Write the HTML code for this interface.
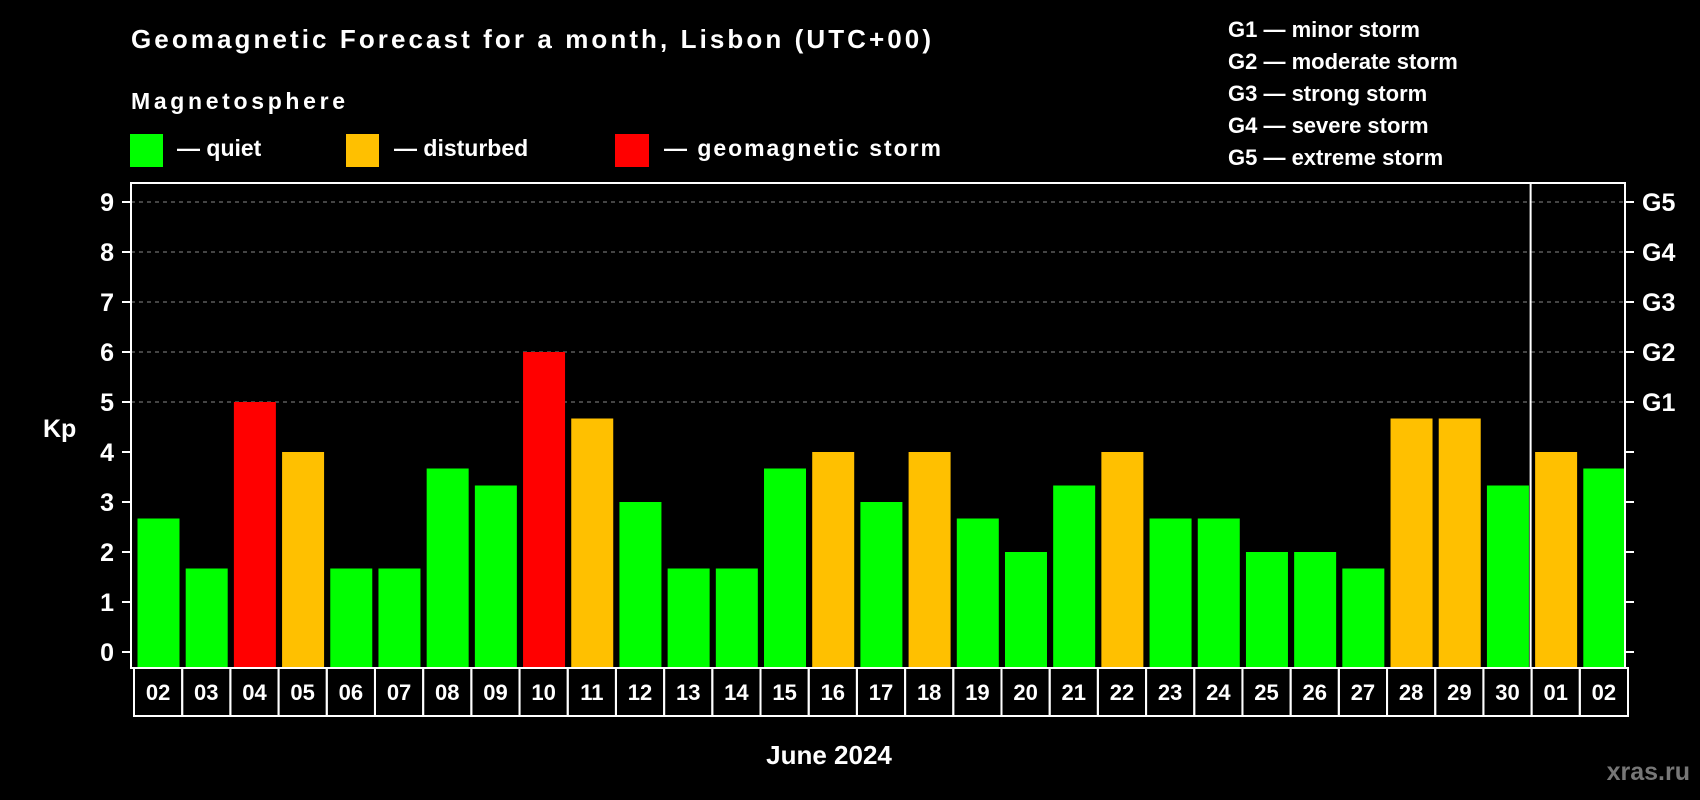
<!DOCTYPE html>
<html><head><meta charset="utf-8"><style>
html,body{margin:0;padding:0;background:#000;}
svg{display:block;font-family:"Liberation Sans",sans-serif;font-weight:bold;}
</style></head><body>
<svg id="chart" width="1700" height="800" viewBox="0 0 1700 800" xmlns="http://www.w3.org/2000/svg">
<rect width="1700" height="800" fill="#000"/>
<text x="131" y="48" fill="#fff" font-size="26" textLength="800">Geomagnetic Forecast for a month, Lisbon (UTC+00)</text>
<text x="131" y="109" fill="#fff" font-size="23" textLength="214">Magnetosphere</text>
<g><rect x="130" y="134" width="33" height="33" fill="#00ff00"/><text x="177" y="156" fill="#fff" font-size="23">— quiet</text></g>
<g><rect x="346" y="134" width="33" height="33" fill="#ffc000"/><text x="394" y="156" fill="#fff" font-size="23">— disturbed</text></g>
<g><rect x="615" y="134" width="34" height="33" fill="#ff0000"/><text x="664" y="156" fill="#fff" font-size="23" textLength="277">— geomagnetic storm</text></g>
<g fill="#fff" font-size="22">
<text x="1228" y="37">G1 — minor storm</text>
<text x="1228" y="69">G2 — moderate storm</text>
<text x="1228" y="101">G3 — strong storm</text>
<text x="1228" y="133">G4 — severe storm</text>
<text x="1228" y="165">G5 — extreme storm</text>
</g>
<text x="43" y="437" fill="#fff" font-size="25">Kp</text>
<g id="grid"></g><g id="bars"></g><g id="axes"></g>
<text x="829" y="764" fill="#fff" font-size="26" text-anchor="middle">June 2024</text>
<text x="1690" y="780" fill="#777" font-size="25" text-anchor="end">xras.ru</text>
</svg>
<script>
const days=["02","03","04","05","06","07","08","09","10","11","12","13","14","15","16","17","18","19","20","21","22","23","24","25","26","27","28","29","30","01","02"];
const kp=[2.67,1.67,5,4,1.67,1.67,3.67,3.33,6,4.67,3,1.67,1.67,3.67,4,3,4,2.67,2,3.33,4,2.67,2.67,2,2,1.67,4.67,4.67,3.33,4,3.67];
const yTicks=[0,1,2,3,4,5,6,7,8,9];
const gLabels=["G1","G2","G3","G4","G5"];
const gLevels=[5,6,7,8,9];
const NS="http://www.w3.org/2000/svg";
const L=131,R=1625,T=183,B=668;
const slot=(R-L)/days.length;
const y=v=>652-v*50;
const x=i=>L+i*slot;
function mk(t,a,p){const e=document.createElementNS(NS,t);for(const k in a)e.setAttribute(k,a[k]);p.appendChild(e);return e;}
const grid=document.getElementById('grid'),bars=document.getElementById('bars'),axes=document.getElementById('axes');
gLevels.forEach((v,i)=>{
 const l=mk('line',{x1:L,x2:R,y1:y(v),y2:y(v),stroke:'#888','stroke-width':1,'stroke-dasharray':'4,4'},grid);
 
 
 const t=mk('text',{x:1642,y:y(v)+9,fill:'#fff','font-size':25},axes);t.textContent=gLabels[i];
 
 
});
kp.forEach((v,i)=>{
 const c=v>=5?'#ff0000':(v>=4?'#ffc000':'#00ff00');
 const r=mk('rect',{x:x(i)+6.5,y:y(v),width:42,height:B-y(v),fill:c},bars);
 
 
 const bx=mk('rect',{x:x(i)+3,y:B,width:slot,height:48,fill:'none',stroke:'#fff','stroke-width':2},axes);
 
 
 const t=mk('text',{x:x(i)+3+slot/2,y:700,fill:'#fff','font-size':22,'text-anchor':'middle'},axes);t.textContent=days[i];
 
 
});
yTicks.forEach(v=>{
 mk('line',{x1:122,x2:L,y1:y(v),y2:y(v),stroke:'#fff','stroke-width':2},axes);
 mk('line',{x1:R,x2:1634,y1:y(v),y2:y(v),stroke:'#fff','stroke-width':2},axes);
 const t=mk('text',{x:114,y:y(v)+9,fill:'#fff','font-size':25,'text-anchor':'end'},axes);t.textContent=v;
 
 
});
const fr=mk('rect',{x:L,y:T,width:R-L,height:B-T,fill:'none',stroke:'#fff','stroke-width':2},axes);


const sep=mk('line',{x1:x(29)+2,x2:x(29)+2,y1:T,y2:B,stroke:'#fff','stroke-width':2},axes);


</script>
</body></html>
